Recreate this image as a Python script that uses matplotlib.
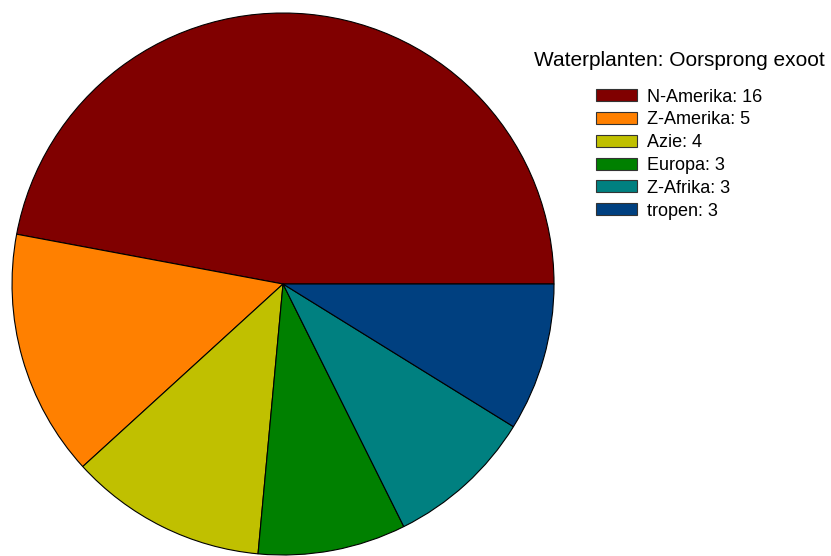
import matplotlib.pyplot as plt
from matplotlib.patches import Patch

plt.rcParams['font.family'] = ['Liberation Sans', 'DejaVu Sans']

# herkomst van exotische waterplanten
regios = ['N-Amerika', 'Z-Amerika', 'Azie', 'Europa', 'Z-Afrika', 'tropen']
aantallen = [16, 5, 4, 3, 3, 3]
kleuren = ['#800000', '#ff8000', '#c0c000', '#008000', '#008080', '#004080']

fig = plt.figure(figsize=(8.31, 5.56), dpi=100)
ax = fig.add_axes([0.01444, 0.0018, 0.6523, 0.9748])

wedges, _ = ax.pie(aantallen, colors=kleuren, startangle=0, counterclock=True,
                   wedgeprops=dict(edgecolor='black', linewidth=0.8))
ax.set_aspect('equal')
ax.set_xlim(-1, 1)
ax.set_ylim(-1, 1)
ax.axis('off')

fig.text(679.5 / 831, 1 - 60 / 556, 'Waterplanten: Oorsprong exoot',
         fontsize=15, ha='center', va='center')

handles = [Patch(facecolor=k, edgecolor='#333333', linewidth=0.8) for k in kleuren]
labels = [f"{r}: {a}" for r, a in zip(regios, aantallen)]
leg = fig.legend(handles, labels,
                 loc='upper left', bbox_to_anchor=(592 / 831, 1 - 85 / 556),
                 frameon=False, fontsize=13,
                 handlelength=2.3, handleheight=0.65, labelspacing=0.32,
                 handletextpad=0.55, borderpad=0.2, borderaxespad=0)

fig.savefig('out.png', dpi=100)
